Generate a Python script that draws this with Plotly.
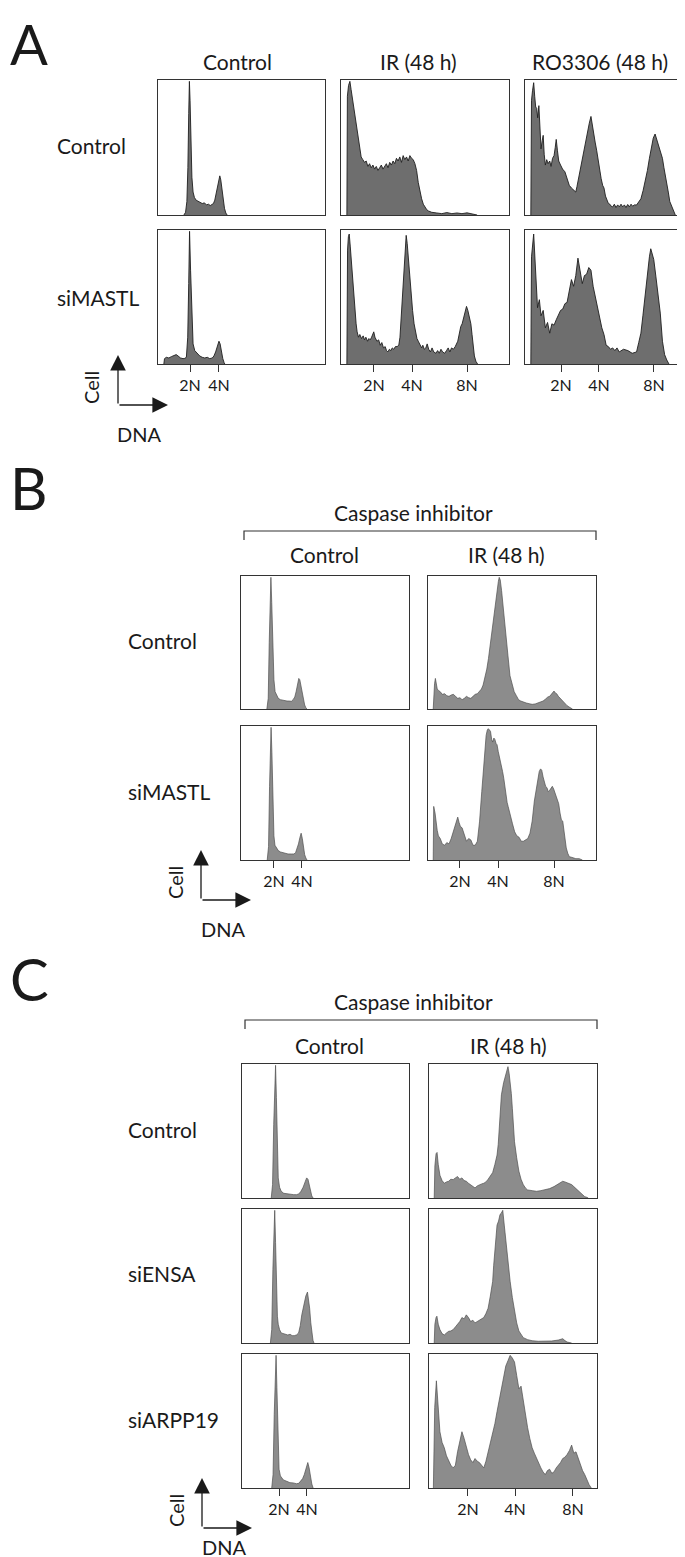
import plotly.graph_objects as go

W, H = 685, 1557

# DNA histograms: (DNA channel, cell count), both as % of the panel scale
a_ctl_ctl = [(15.5, 0), (16.5, 2), (17.3, 10), (17.9, 35), (18.4, 75), (18.8, 99), (19.2, 85), (19.7, 50),
             (20.3, 28), (21.0, 17), (21.8, 13), (22.8, 11), (24.0, 10), (25.3, 9.5), (26.5, 8.5), (27.8, 9),
             (29.0, 7.5), (30.2, 8), (31.3, 7), (32.3, 7.8), (33.2, 8.5), (34.0, 11), (34.8, 16), (35.6, 22),
             (36.3, 27), (37.0, 29), (37.6, 26), (38.3, 19), (39.0, 11), (39.8, 5), (40.6, 1.5), (41.4, 0)]
a_ctl_ir = [(3.5, 0), (3.8, 88), (4.5, 96), (5.3, 99), (6.0, 93), (6.8, 86), (7.5, 81), (8.3, 74), (9.0, 68),
            (9.7, 62), (10.4, 54), (11.2, 47), (12.0, 43), (13, 41), (14, 39), (15, 40), (16, 36), (17, 38),
            (18, 35), (19, 37), (20, 34), (21, 36), (22, 33), (23, 35), (24, 37), (25, 34), (26, 36), (27, 38),
            (28, 35), (29, 39), (30, 37), (31, 40), (32, 38), (33, 42), (34, 40), (35, 43), (36, 39), (37, 44),
            (38, 41), (39, 43), (40, 40), (41, 44), (42, 42), (43, 41), (44, 38), (45, 33), (46, 24), (47, 17),
            (48, 12), (49, 8), (50, 5.5), (51, 4), (52, 3), (54, 2), (57, 1.5), (60, 1), (63, 1.8), (66, 1),
            (69, 1.5), (72, 1), (75, 1.6), (78, 1), (80, 0.6), (81, 0)]
a_ctl_ro = [(3.5, 0), (3.9, 85), (4.5, 92), (5.2, 98), (5.8, 88), (6.4, 80), (7.0, 79), (7.6, 72), (8.3, 81),
            (8.9, 65), (9.6, 49), (10.3, 55), (10.9, 59), (11.5, 45), (12.2, 37), (13.0, 41), (13.8, 38),
            (14.8, 40), (15.6, 36), (16.5, 42), (17.4, 44), (18.1, 50), (18.7, 56), (19.4, 48), (20.2, 40),
            (21.3, 37), (22.5, 34), (23.9, 32), (25.2, 27), (26.5, 22), (27.8, 20), (29.1, 18.5), (30.4, 17),
            (31.1, 21), (31.7, 25), (32.6, 30), (33.5, 35), (34.3, 40), (35.2, 47), (36.1, 52), (36.9, 59),
            (37.7, 64), (38.5, 68), (39.5, 73), (40.3, 66), (41.1, 58), (42.0, 54), (42.9, 48), (43.8, 40),
            (44.7, 33), (45.6, 27), (46.5, 22), (47.3, 20), (48.2, 14), (49.1, 11), (49.9, 8.6), (50.8, 8),
            (51.6, 6.5), (52.5, 6), (53.5, 8), (54.5, 5.5), (55.5, 7.5), (56.5, 6), (57.5, 8), (58.5, 6),
            (59.5, 7.5), (60.5, 5.5), (61.5, 7.8), (62.5, 6), (63.5, 8), (64.5, 6.5), (65.5, 7.5), (66.8, 7.4),
            (68.0, 9.5), (69.4, 12), (70.7, 18), (72.0, 25), (73.3, 33), (74.5, 42), (75.7, 50), (76.8, 57),
            (77.9, 60), (78.8, 56), (79.7, 54), (80.6, 48), (81.5, 45), (82.3, 42), (83.2, 35), (84.0, 30),
            (84.9, 25), (85.8, 17), (86.7, 10), (87.5, 7.4), (88.5, 4), (89.6, 1), (90.0, 0)]
a_mastl_ctl = [(3.5, 0), (3.9, 4), (5, 5), (6.5, 4.5), (8, 5.5), (9.5, 6.5), (10.9, 7), (12, 6), (13.5, 4.5),
               (15, 4), (16, 4.2), (17, 5), (17.8, 20), (18.4, 60), (18.9, 99), (19.5, 70), (20.2, 35),
               (21, 15), (22, 10), (23.5, 8), (25, 6), (26.5, 5), (28, 4.5), (29.5, 5), (31, 4), (32.5, 4.5),
               (33.5, 6), (34.5, 9), (35.5, 13), (36.5, 17), (37.2, 15), (38, 9), (38.8, 4), (39.6, 1), (40, 0)]
a_mastl_ir = [(3.5, 0), (3.9, 85), (4.4, 95), (4.9, 97), (5.5, 88), (6.2, 75), (7.0, 66), (7.6, 52), (8.3, 41),
              (9.0, 30), (9.6, 24), (10.4, 20), (11.2, 22), (12.2, 19), (13.2, 21), (14.0, 18), (14.8, 20),
              (15.8, 17), (16.6, 19), (17.4, 18), (18.2, 20), (19.0, 23), (19.5, 24), (20.2, 20), (21.4, 17),
              (22.4, 18), (23.4, 14), (24.3, 16), (25.3, 12), (26.3, 13), (27.1, 10), (27.9, 9), (28.8, 11),
              (29.7, 10), (30.5, 12), (31.4, 11), (32.4, 13), (33.4, 13), (34.4, 14), (35.1, 20), (35.7, 34),
              (36.4, 45), (37.0, 54), (37.6, 70), (38.2, 88), (38.8, 96), (39.4, 90), (40.0, 80), (40.9, 66),
              (41.7, 52), (42.6, 40), (43.5, 30), (44.3, 24), (45.2, 19), (46.0, 17), (47.0, 15), (48.0, 12),
              (48.7, 14), (49.6, 11), (50.5, 12), (51.3, 15), (52.2, 11), (53.2, 9), (54.2, 12), (55.2, 9),
              (56.5, 8), (57.5, 10), (58.5, 8), (59.5, 11), (60.5, 9), (61.7, 8), (62.8, 10), (63.8, 12),
              (64.8, 9), (65.8, 12), (66.9, 11), (68.0, 13), (69.5, 17), (70.5, 23), (71.3, 28), (72.1, 30),
              (73.0, 35), (73.8, 40), (74.7, 43), (75.5, 40), (76.3, 36), (77.3, 30), (78.0, 22), (78.6, 14),
              (79.4, 6), (80.3, 2), (81.3, 0)]
a_mastl_ro = [(3.5, 0), (3.9, 80), (5.2, 97), (6.2, 74), (7.5, 42), (8.6, 48), (9.6, 36), (10.9, 40),
              (12.2, 27), (13.5, 31), (14.8, 23), (16.1, 30), (17.4, 29), (18.7, 33), (20.0, 36), (21.3, 40),
              (22.6, 41), (23.9, 45), (25.2, 46), (26.5, 55), (27.8, 63), (29.1, 58), (30.4, 66), (31.7, 79),
              (33.0, 70), (34.3, 60), (35.6, 66), (36.9, 67), (38.2, 72), (39.5, 70), (40.8, 58), (42.1, 50),
              (43.4, 41), (44.7, 35), (46.0, 27), (47.3, 22), (48.6, 14), (49.9, 13), (51.2, 11), (52.5, 12),
              (53.8, 10), (55.1, 12), (56.4, 9), (59.0, 11), (61.6, 10), (64.2, 8), (66.8, 9), (68.1, 16),
              (69.4, 23), (70.6, 36), (71.9, 52), (73.2, 66), (74.5, 80), (75.3, 86), (76.4, 82), (77.1, 78),
              (78.4, 65), (79.7, 52), (81.0, 38), (82.3, 17), (83.6, 7), (84.9, 3), (86.2, 0)]

b_ctl_ctl = [(15.4, 0), (16.2, 8), (16.8, 50), (17.4, 85), (17.8, 99), (18.3, 80), (19.0, 45), (19.6, 22),
             (20.3, 13), (21.2, 10), (22.2, 8), (23.5, 7), (25.0, 6.5), (26.5, 6.5), (27.4, 6), (28.5, 6),
             (30.0, 5.8), (31.0, 7), (32.0, 9), (32.8, 13), (33.6, 18), (34.4, 23), (35.0, 22), (35.8, 17),
             (36.6, 11), (37.3, 6), (37.9, 3), (38.6, 1), (39.2, 0)]
b_ctl_ir = [(3.1, 0), (3.4, 12), (3.9, 19), (4.4, 23), (4.9, 18), (5.5, 15), (6.2, 14), (7.3, 13), (8.5, 11),
            (9.9, 11.5), (11.2, 10), (12.5, 9.5), (13.8, 10.5), (15.1, 11), (16.4, 9.5), (17.7, 8), (19.0, 8.5),
            (20.3, 7), (21.6, 8), (22.9, 9.5), (24.2, 8.5), (25.5, 8), (26.8, 9.5), (28.1, 11), (29.4, 11.5),
            (30.7, 13), (31.8, 15), (32.8, 18), (33.9, 23), (35.0, 30), (36.0, 38), (37.0, 48), (38.0, 60),
            (39.1, 71), (40.1, 82), (41.1, 91), (41.9, 96), (42.4, 99), (43.0, 97), (43.8, 89), (44.7, 76),
            (45.6, 66), (46.6, 54), (47.6, 40), (48.8, 25), (50.0, 18), (51.3, 13), (52.6, 10), (53.9, 7),
            (55.2, 6), (56.8, 5), (58.5, 4.5), (60.2, 4), (62.0, 3.5), (63.8, 3.8), (65.5, 4.5), (67.0, 5.5),
            (68.5, 6), (70.0, 7.5), (71.3, 9), (72.4, 9.5), (73.4, 11), (74.3, 12.5), (75.0, 13.5), (75.8, 12),
            (76.6, 11.5), (77.6, 9.5), (78.6, 8), (79.6, 6.5), (80.6, 5), (81.6, 3.5), (82.8, 2.5), (84.0, 1.5),
            (85.2, 0.8), (86.0, 0)]
b_mastl_ctl = [(15.6, 0), (16.4, 10), (17.0, 55), (17.5, 90), (17.9, 99), (18.4, 80), (19.0, 40), (19.6, 18),
               (20.2, 11), (21.0, 9), (22.2, 7), (23.5, 6), (25.0, 5.5), (26.5, 5), (28.0, 4.5), (30.0, 4.5),
               (31.5, 4.5), (32.5, 5.5), (33.3, 8), (34.2, 12), (35.1, 17), (35.8, 20), (36.5, 16), (37.2, 9),
               (37.9, 4), (38.6, 1.5), (39.3, 0)]
b_mastl_ir = [(3.1, 0), (3.4, 40), (4.2, 35), (4.7, 29), (5.5, 22), (6.2, 18), (7.3, 16), (8.5, 12), (9.9, 11),
              (11.2, 13), (12.5, 12), (13.8, 16), (15.1, 21), (16.4, 27), (17.7, 32), (18.5, 28), (19.3, 25),
              (20.3, 24), (21.6, 18), (22.9, 14), (24.2, 16), (25.5, 15), (26.8, 11), (28.1, 11), (29.4, 14),
              (30.7, 29), (32.0, 51), (32.7, 64), (33.3, 75), (34.0, 85), (34.6, 93), (35.3, 97), (35.9, 98),
              (36.6, 97), (37.2, 96), (37.9, 90), (38.5, 88), (39.2, 91), (39.8, 90), (40.5, 87), (41.1, 86),
              (41.8, 81), (42.4, 78), (43.1, 74), (43.8, 70), (44.4, 66), (45.1, 61), (45.8, 54), (46.4, 48),
              (47.1, 43), (47.7, 40), (48.4, 36), (49.0, 35), (49.7, 30), (50.3, 27), (51.6, 21), (52.9, 18),
              (54.2, 17), (55.5, 14), (56.8, 14), (58.1, 15), (59.4, 16), (60.7, 20), (62.0, 29), (63.3, 44),
              (64.6, 55), (65.4, 60), (66.2, 66), (67.0, 68), (67.7, 67), (68.5, 62), (69.2, 58), (70.0, 55),
              (70.8, 54), (71.6, 51), (72.4, 52), (73.2, 54), (74.0, 55), (74.8, 53), (75.6, 50), (76.3, 48),
              (77.0, 46), (77.8, 42), (78.6, 35), (79.4, 30), (80.2, 29), (81.2, 17), (82.3, 9), (83.2, 5),
              (84.1, 2.5), (85.5, 2), (87.0, 1.5), (88.0, 1), (90.0, 1), (91.9, 0)]

c_ctl_ctl = [(17.5, 0), (18.3, 10), (19.0, 55), (19.6, 90), (20.1, 99), (20.6, 75), (21.2, 40), (21.7, 15),
             (22.5, 8), (23.5, 5), (25.0, 3.5), (27.0, 3), (29.0, 2.8), (31.0, 2.5), (32.6, 2.5), (34.0, 3),
             (35.3, 5), (36.6, 8), (37.8, 12), (38.7, 15), (39.5, 14), (40.3, 9), (41.0, 4), (41.8, 1.5), (42.6, 0)]
c_ctl_ir = [(3.1, 0), (3.5, 24), (4.2, 33), (4.8, 34), (5.5, 25), (6.5, 17), (7.8, 13), (9.1, 11), (10.4, 12),
            (11.7, 12.5), (13.0, 14), (14.4, 13.7), (15.7, 15), (17.0, 16), (18.3, 14), (19.6, 15), (20.9, 13),
            (22.2, 12.5), (23.5, 11), (24.8, 10), (26.1, 8.5), (27.4, 7.5), (28.7, 9), (30.0, 10), (31.3, 10.5),
            (32.6, 11), (33.9, 12), (35.2, 14), (36.5, 16), (37.9, 19), (39.2, 25), (40.5, 32), (41.2, 40),
            (41.8, 50), (42.5, 63), (43.1, 77), (44.4, 86), (45.7, 92), (46.4, 96), (47.0, 98), (47.7, 93),
            (48.3, 87), (49.0, 78), (49.6, 67), (50.3, 55), (50.9, 42), (52.2, 30), (53.5, 20), (54.8, 14),
            (56.1, 10), (57.4, 7.5), (58.7, 6), (61.4, 5.5), (64.0, 5), (66.6, 5.5), (69.2, 6), (71.8, 7),
            (74.4, 8.5), (76.4, 10), (78.3, 11), (79.6, 12.5), (80.9, 12), (82.2, 11.5), (83.6, 11), (84.9, 10),
            (86.2, 8.5), (87.5, 7), (88.8, 5), (90.1, 3.5), (91.4, 2), (92.7, 1), (94.0, 0.5), (94.8, 0)]
c_ensa_ctl = [(17.0, 0), (17.8, 10), (18.5, 55), (19.1, 90), (19.6, 99), (20.1, 75), (20.7, 40), (21.2, 20),
              (21.7, 14), (22.5, 10), (23.5, 7.5), (25.0, 7), (26.5, 6.5), (27.4, 6), (28.8, 6.5), (30.0, 5.5),
              (31.3, 5.5), (32.6, 6), (33.9, 7.5), (34.9, 13), (35.8, 21), (36.6, 26), (37.3, 31), (38.2, 35),
              (39.2, 38), (39.9, 33), (40.5, 26), (41.2, 15), (41.8, 6), (42.5, 2), (43.1, 0)]
c_ensa_ir = [(3.1, 0), (3.5, 14), (4.2, 19), (4.7, 20), (5.5, 14), (6.5, 10), (7.8, 7), (9.1, 6), (10.4, 7.5),
             (11.7, 8.7), (13.0, 9), (14.4, 10), (15.7, 12), (17.0, 14), (18.3, 16), (19.6, 19), (20.9, 18),
             (22.2, 21), (23.5, 19), (24.8, 16), (26.1, 17), (27.4, 15), (28.7, 16), (30.0, 17), (31.3, 18),
             (32.6, 19), (33.9, 22), (35.2, 26), (36.5, 35), (37.9, 46), (38.5, 58), (39.2, 71), (39.8, 80),
             (40.5, 88), (41.4, 91), (42.3, 96), (43.1, 97), (43.9, 99), (44.8, 88), (45.7, 76), (46.4, 67),
             (47.0, 58), (48.3, 46), (49.6, 34), (50.9, 24), (52.2, 15), (53.5, 9), (54.8, 6), (56.1, 4),
             (58.7, 2.5), (61.4, 1.7), (65.0, 1.3), (69.2, 1.2), (73.0, 1.5), (77.0, 2.2), (78.3, 2.8),
             (79.6, 3.2), (80.9, 1.8), (82.2, 0.7), (84.9, 0)]
c_arpp_ctl = [(17.8, 0), (18.6, 10), (19.3, 55), (19.9, 90), (20.4, 99), (20.9, 75), (21.5, 40), (22.2, 14),
              (23.0, 9), (24.8, 6), (26.8, 5), (28.7, 4), (30.7, 3.8), (32.6, 3.2), (34.0, 3.5), (35.2, 5),
              (36.3, 7), (37.3, 10), (38.4, 15), (39.4, 19), (40.2, 15), (41.0, 7), (41.8, 3), (42.6, 0)]
c_arpp_ir = [(2.6, 0), (3.4, 60), (4.4, 80), (5.5, 62), (6.5, 42), (7.8, 34), (9.1, 30), (10.4, 24), (11.7, 20),
             (13.0, 17), (14.4, 15), (15.7, 17), (17.0, 27), (18.3, 35), (19.6, 42), (20.9, 37), (22.2, 30),
             (23.5, 25), (24.8, 21), (26.1, 19), (27.4, 22), (28.7, 20), (30.0, 19), (31.3, 17), (32.6, 15),
             (33.9, 20), (35.2, 27), (36.5, 33), (37.9, 40), (39.2, 48), (40.5, 57), (41.8, 65), (43.1, 74),
             (44.4, 82), (45.7, 91), (47.0, 95), (48.3, 99), (49.6, 97), (50.9, 94), (52.2, 84), (53.5, 74),
             (54.8, 76), (56.1, 65), (57.4, 55), (58.7, 45), (60.0, 37), (61.4, 30), (62.7, 26), (64.0, 22),
             (65.3, 19), (66.6, 15), (67.9, 12), (69.2, 10), (70.5, 13), (71.8, 14), (73.1, 11), (74.4, 12),
             (75.7, 15), (77.0, 17), (78.3, 19), (79.6, 22), (80.9, 23), (82.2, 25), (83.6, 28), (84.9, 32),
             (85.6, 28), (86.2, 26), (87.5, 27), (88.8, 22), (90.1, 17), (91.4, 13), (92.7, 10), (94.0, 6),
             (95.3, 2.5), (96.6, 0)]

ticks_a_ctl = [19.2, 36.5]
ticks_a_ir = [19.6, 42.3, 75.0]
ticks_a_ro = [21.6, 44.3, 77.2]
ticks_b_ctl = [19.6, 36.3]
ticks_b_ir = [19.0, 41.7, 75.0]
ticks_c_ctl = [22.2, 38.9]
ticks_c_ir = [23.2, 51.2, 85.7]
labels_2 = ['2N', '4N']
labels_3 = ['2N', '4N', '8N']

FONT = 'Lato'
TXT = '#1a1a1a'
DARK = dict(fill='#6e6e6e', line='#1e1e1e', width=0.9)
LIGHT = dict(fill='#8c8c8c', line='#4f4f4f', width=0.7)


def px(x):
    return x / W


def py(y):
    return 1 - y / H


# box: (left, right, top, bottom) in pixels, data, ticks or None
panels = [
    ((150, 317, 72, 207), a_ctl_ctl, None, DARK),
    ((333, 501, 72, 207), a_ctl_ir, None, DARK),
    ((517, 684, 72, 207), a_ctl_ro, None, DARK),
    ((150, 317, 222, 356), a_mastl_ctl, (ticks_a_ctl, labels_2), DARK),
    ((333, 501, 222, 356), a_mastl_ir, (ticks_a_ir, labels_3), DARK),
    ((517, 684, 222, 356), a_mastl_ro, (ticks_a_ro, labels_3), DARK),
    ((233, 401, 568, 701), b_ctl_ctl, None, LIGHT),
    ((420, 588, 568, 701), b_ctl_ir, None, LIGHT),
    ((233, 401, 718, 852), b_mastl_ctl, (ticks_b_ctl, labels_2), LIGHT),
    ((420, 588, 718, 852), b_mastl_ir, (ticks_b_ir, labels_3), LIGHT),
    ((234, 401, 1056, 1190), c_ctl_ctl, None, LIGHT),
    ((421, 589, 1056, 1190), c_ctl_ir, None, LIGHT),
    ((234, 401, 1201, 1335), c_ensa_ctl, None, LIGHT),
    ((421, 589, 1201, 1335), c_ensa_ir, None, LIGHT),
    ((234, 401, 1346, 1480), c_arpp_ctl, (ticks_c_ctl, labels_2), LIGHT),
    ((421, 589, 1346, 1480), c_arpp_ir, (ticks_c_ir, labels_3), LIGHT),
]

fig = go.Figure()
layout_axes = {}
for i, (box, data, ticks, st) in enumerate(panels, start=1):
    sfx = '' if i == 1 else str(i)
    xs = [d[0] for d in data]
    ys = [d[1] for d in data]
    fig.add_trace(go.Scatter(x=xs, y=ys, mode='lines', fill='tozeroy', fillcolor=st['fill'],
                             line=dict(color=st['line'], width=st['width']),
                             xaxis='x' + sfx, yaxis='y' + sfx, hoverinfo='skip', showlegend=False))
    l, r, t, b = box
    xa = dict(domain=[px(l), px(r)], range=[0, 100], anchor='y' + sfx, showgrid=False, zeroline=False,
              showline=True, mirror=True, linecolor='#333333', linewidth=1.3, fixedrange=True)
    if ticks:
        xa.update(tickmode='array', tickvals=ticks[0], ticktext=ticks[1], ticks='outside', ticklen=7,
                  tickwidth=1.2, tickcolor='#333333', tickfont=dict(family=FONT, size=16, color=TXT))
    else:
        xa.update(showticklabels=False, ticks='')
    ya = dict(domain=[py(b), py(t)], range=[0, 100], anchor='x' + sfx, showgrid=False, zeroline=False,
              showline=True, mirror=True, linecolor='#333333', linewidth=1.3, showticklabels=False,
              ticks='', fixedrange=True)
    layout_axes['xaxis' + sfx] = xa
    layout_axes['yaxis' + sfx] = ya

fig.update_layout(**layout_axes)

ann = []


def text(s, x, y, size=21, xanchor='center', angle=0, yanchor='middle'):
    ann.append(dict(text=s, x=px(x), y=py(y), xref='paper', yref='paper', showarrow=False,
                    xanchor=xanchor, yanchor=yanchor, textangle=angle,
                    font=dict(family=FONT, size=size, color=TXT)))


def axes_key(x0, y0, length):
    # small Cell / DNA axis arrows
    ann.append(dict(x=px(x0), y=py(y0 - length), xref='paper', yref='paper', ax=0, ay=length,
                    text='', showarrow=True, arrowhead=2, arrowsize=2.4, arrowwidth=1.3, arrowcolor='#1a1a1a'))
    ann.append(dict(x=px(x0 + length), y=py(y0), xref='paper', yref='paper', ax=-length, ay=0,
                    text='', showarrow=True, arrowhead=2, arrowsize=2.4, arrowwidth=1.3, arrowcolor='#1a1a1a'))


# panel A
text('A', 0, 0, size=56, xanchor='left', yanchor='top')
text('Control', 229, 54)
text('IR (48 h)', 410, 54)
text('RO3306 (48 h)', 592, 54)
text('Control', 47, 137, xanchor='left')
text('siMASTL', 47, 289, xanchor='left')
axes_key(110, 397, 50)
text('Cell', 83, 380, size=20, angle=-90)
text('DNA', 131, 426, size=20)

# panel B
text('B', 0, 480, size=58, xanchor='left')
text('Caspase inhibitor', 405, 505)
text('Control', 316, 547)
text('IR (48 h)', 498, 547)
text('Control', 118, 632, xanchor='left')
text('siMASTL', 118, 783, xanchor='left')
axes_key(193, 892, 50)
text('Cell', 167, 875, size=20, angle=-90)
text('DNA', 215, 921, size=20)

# panel C
text('C', 0, 970, size=58, xanchor='left')
text('Caspase inhibitor', 405, 993)
text('Control', 321, 1037)
text('IR (48 h)', 500, 1037)
text('Control', 118, 1121, xanchor='left')
text('siENSA', 118, 1265, xanchor='left')
text('siARPP19', 118, 1411, xanchor='left')
axes_key(194, 1520, 50)
text('Cell', 168, 1503, size=20, angle=-90)
text('DNA', 216, 1539, size=20)

shapes = []
for yb, x0, x1 in [(523, 236, 588), (1012, 237, 589)]:
    shapes.append(dict(type='path', xref='paper', yref='paper',
                       path=f'M {px(x0)} {py(yb + 9)} L {px(x0)} {py(yb)} L {px(x1)} {py(yb)} L {px(x1)} {py(yb + 9)}',
                       line=dict(color='#333333', width=1.2)))

fig.update_layout(width=W, height=H, margin=dict(l=0, r=0, t=0, b=0), autosize=False,
                  paper_bgcolor='white', plot_bgcolor='white', annotations=ann, shapes=shapes,
                  showlegend=False)

fig.write_html('out.html')
